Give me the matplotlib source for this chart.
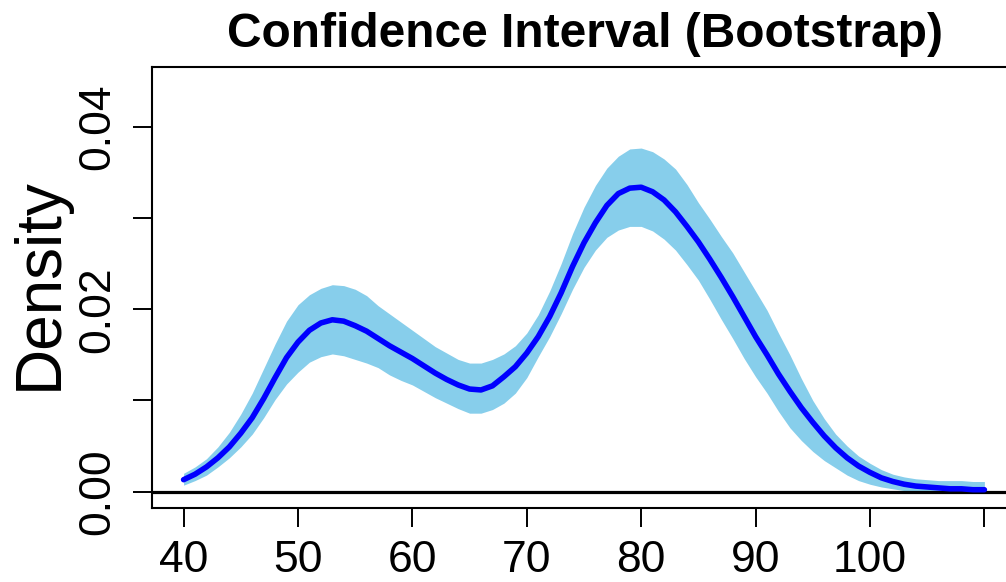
import numpy as np
import matplotlib
matplotlib.use("Agg")
import matplotlib.pyplot as plt

plt.rcParams['font.family'] = ['Liberation Sans', 'DejaVu Sans']

# values, one per unit from 40 to 110
x = list(range(40, 111))
dens_mean = [0.0013, 0.0019, 0.0027, 0.0037, 0.0049, 0.0064, 0.0081, 0.0102, 0.0125, 0.0147,
             0.0164, 0.0177, 0.0185, 0.01885, 0.0187, 0.0182, 0.0176, 0.0168, 0.0160, 0.0153,
             0.0146, 0.0138, 0.0130, 0.0123, 0.0117, 0.01125, 0.01115, 0.0116, 0.0126, 0.0137,
             0.0152, 0.0170, 0.0192, 0.0218, 0.0247, 0.0273, 0.0295, 0.0314, 0.0327, 0.0333,
             0.0334, 0.0329, 0.0320, 0.0307, 0.0291, 0.0274, 0.0255, 0.0235, 0.0214, 0.0192,
             0.0170, 0.0150, 0.0129, 0.0110, 0.0092, 0.0076, 0.0061, 0.0048, 0.0037, 0.0028,
             0.0021, 0.0015, 0.0011, 0.0008, 0.0006, 0.0005, 0.0004, 0.0003, 0.0003, 0.0002,
             0.0002]
dens_upper = [0.0020, 0.0027, 0.0036, 0.0049, 0.0065, 0.0085, 0.0108, 0.0135, 0.0162, 0.0187,
              0.0205, 0.0216, 0.0223, 0.0227, 0.0226, 0.0222, 0.0215, 0.0204, 0.0195, 0.0186,
              0.0177, 0.0168, 0.0159, 0.0152, 0.0145, 0.0141, 0.0141, 0.0145, 0.0151, 0.0160,
              0.0174, 0.0194, 0.0220, 0.0250, 0.0283, 0.0312, 0.0336, 0.0355, 0.0368, 0.0376,
              0.0377, 0.0373, 0.0365, 0.0354, 0.0337, 0.0317, 0.0299, 0.0280, 0.0262, 0.0241,
              0.0220, 0.0199, 0.0174, 0.0150, 0.0124, 0.0100, 0.0080, 0.0063, 0.0050, 0.0039,
              0.0031, 0.0024, 0.0019, 0.0016, 0.0014, 0.0013, 0.0012, 0.0012, 0.0012, 0.0011,
              0.0011]
dens_lower = [0.0007, 0.0012, 0.0018, 0.0027, 0.0037, 0.0049, 0.0063, 0.0081, 0.0101, 0.0118,
              0.0131, 0.0142, 0.0148, 0.0151, 0.0149, 0.0145, 0.0141, 0.0136, 0.0128, 0.0122,
              0.0117, 0.0110, 0.0103, 0.0097, 0.0091, 0.0086, 0.0086, 0.0090, 0.0097, 0.0108,
              0.0125, 0.0148, 0.0170, 0.0195, 0.0222, 0.0246, 0.0265, 0.0279, 0.0287, 0.0291,
              0.0291, 0.0286, 0.0277, 0.0265, 0.0249, 0.0232, 0.0211, 0.0189, 0.0168, 0.0146,
              0.0126, 0.0108, 0.0088, 0.0070, 0.0056, 0.0044, 0.0034, 0.0026, 0.0018, 0.0012,
              0.0008, 0.0005, 0.0003, 0.0001, -0.0001, -0.0002, -0.0002, -0.0002, -0.0002,
              -0.0002, -0.0002]

xticks = [40, 50, 60, 70, 80, 90, 100, 110]
xticklabels = ["40", "50", "60", "70", "80", "90", "100", ""]
yticks = [0.0, 0.01, 0.02, 0.03, 0.04]
yticklabels = ["0.00", "", "0.02", "", "0.04"]

fig = plt.figure(figsize=(10.06, 5.82), dpi=100)
ax = fig.add_axes([0.1511, 0.1271, 0.8588, 0.7577])

ax.fill_between(x, dens_lower, dens_upper, color="skyblue", linewidth=0)
ax.axhline(0, color="black", lw=2.3, zorder=3)
ax.plot(x, dens_mean, color="blue", lw=4, solid_capstyle="round", zorder=4)

ax.set_xlim(37.24, 112.76)
ax.set_ylim(-0.00181, 0.04659)

ax.set_xticks(xticks)
ax.set_xticklabels(xticklabels)
ax.set_yticks(yticks)
ax.set_yticklabels(yticklabels, rotation=90, va="center")

ax.tick_params(direction="out", length=14, width=1.4, labelsize=32)
ax.tick_params(axis="x", pad=9)
ax.tick_params(axis="y", pad=10)
for s in ax.spines.values():
    s.set_linewidth(1.5)

fig.text(0.040, 0.512, "Density", rotation=90, fontsize=46, ha="center", va="center")
fig.text(0.5815, 0.941, "Confidence Interval (Bootstrap)", fontsize=34.5,
         fontweight="bold", ha="center", va="center")

fig.savefig("out.png", dpi=100)
